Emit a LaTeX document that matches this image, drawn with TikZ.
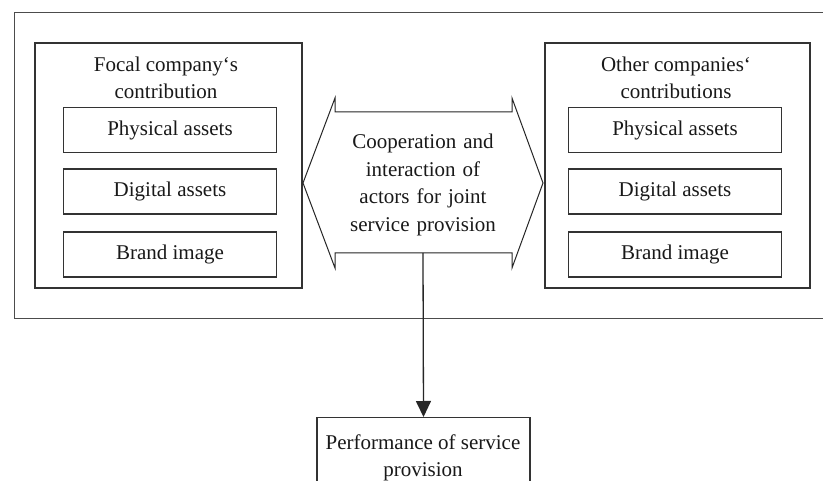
\documentclass[tikz,border=0pt]{standalone}
\usepackage{fontspec}
\setmainfont{Liberation Serif}
\usetikzlibrary{arrows.meta}
\begin{document}
\begin{tikzpicture}[x=1pt,y=-1pt,
  frame/.style={draw=black!70, line width=0.9pt},
  groupbox/.style={draw=black!80, line width=1.3pt, inner sep=0pt},
  itembox/.style={draw=black!80, line width=1.3pt, inner sep=0pt, minimum width=213pt, minimum height=45pt,
    font=\fontsize{21}{27.5}\selectfont, text=black!90},
  lbl/.style={font=\fontsize{21}{27.5}\selectfont, text=black!90, align=center, inner sep=0pt},
  conn/.style={draw=black!85, line width=1.3pt}]
\useasboundingbox (0,0) rectangle (823,481);
\clip (0,0) rectangle (823,481);
\fill[white] (0,0) rectangle (823,481);
% outer frame (extends beyond right edge)
\draw[frame] (840,12) -- (14,12) -- (14,318) -- (840,318);
% left group
\node[groupbox, minimum width=267pt, minimum height=245pt] (lgroup) at (168.5,165.5) {};
\node[lbl] (lhead) at (166,78) {Focal company‘s\\contribution};
\node[itembox] (lphys) at (170,130) {Physical assets};
\node[itembox] (ldig) at (170,191.5) {Digital assets};
\node[itembox] (lbrand) at (170,254.5) {Brand image};
% right group
\node[groupbox, minimum width=265pt, minimum height=245pt] (rgroup) at (677.5,165.5) {};
\node[lbl] (rhead) at (676,78) {Other companies‘\\contributions};
\node[itembox] (rphys) at (675,130) {Physical assets};
\node[itembox] (rdig) at (675,191.5) {Digital assets};
\node[itembox] (rbrand) at (675,254.5) {Brand image};
% double arrow
\draw[conn, line width=1pt, line join=miter] (303,183) -- (335,98) -- (335,112) -- (512,112) -- (512,98) -- (543,183)
  -- (512,268) -- (512,253) -- (335,253) -- (335,268) -- cycle;
\node[lbl, text width=170pt] (coop) at (423,185) {Cooperation and\\interaction of\\actors for joint\\service provision};
\coordinate (arrowbot) at (423,253);
% bottom box (extends beyond bottom edge)
\node[groupbox, minimum width=213pt, minimum height=90pt, anchor=north] (perf) at (423.5,417) {};
\node[lbl] (perftext) at (423,458) {Performance of service\\provision};
\draw[conn, -{Triangle[length=16pt,width=15pt]}] (arrowbot) -- (perf.north);
\end{tikzpicture}
\end{document}
